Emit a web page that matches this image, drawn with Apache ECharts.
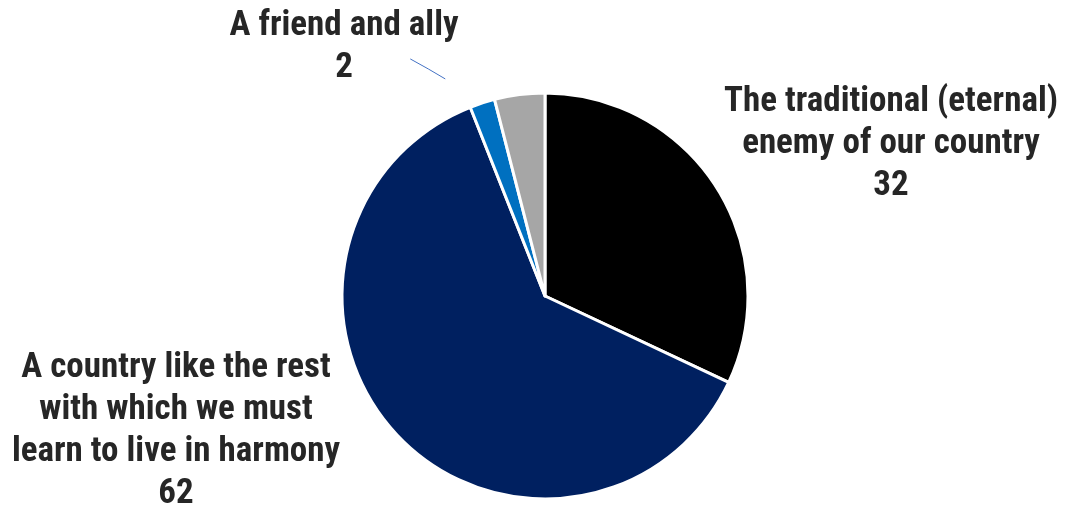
<!DOCTYPE html>
<html>
<head>
<meta charset="utf-8">
<script src="https://cdn.jsdelivr.net/npm/echarts@6/dist/echarts.min.js"></script>
<style>
html,body{margin:0;padding:0;background:#fff;}
#chart{width:1066px;height:505px;}
</style>
</head>
<body>
<div id="chart"></div>
<script>
const categories = [
  "The traditional (eternal)\nenemy of our country",
  "A country like the rest\nwith which we must\nlearn to live in harmony",
  "A friend and ally",
  "Other / no answer"
];
const values = [32, 62, 2, 4];
const colors = ["#000000", "#002060", "#0070C0", "#A6A6A6"];
const showLabel = [true, true, true, false];

// label anchor positions (layout only)
const labelPos = [
  { x: 891, y: 144 },
  { x: 176, y: 431 },
  { x: 344, y: 47 },
  null
];

const FONT = "'Roboto Condensed', 'Liberation Sans Narrow', 'DejaVu Sans Condensed', sans-serif";

const chart = echarts.init(document.getElementById('chart'), null, { renderer: 'canvas' });

const data = categories.map((c, i) => ({
  name: c,
  value: values[i],
  itemStyle: { color: colors[i] },
  label: { show: showLabel[i] },
  labelLine: { show: i === 2 }
}));

chart.setOption({
  animation: false,
  series: [{
    type: 'pie',
    center: [545, 296],
    radius: 203,
    startAngle: 90,
    clockwise: true,
    data: data,
    itemStyle: { borderColor: '#ffffff', borderWidth: 3 },
    label: {
      position: 'outside',
      formatter: '{b}\n{c}',
      fontFamily: FONT,
      fontWeight: 'bold',
      fontSize: 35,
      lineHeight: 42,
      color: '#262626',
      align: 'center',
      overflow: 'none'
    },
    labelLine: {
      length: 20,
      length2: 0,
      lineStyle: { color: '#4472C4', width: 1 }
    },
    labelLayout: function (params) {
      const p = labelPos[params.dataIndex];
      if (!p) return {};
      const out = { x: p.x, y: p.y, align: 'center', verticalAlign: 'middle' };
      if (params.dataIndex === 2 && params.labelLinePoints) {
        const a = params.labelLinePoints[0];
        out.labelLinePoints = [
          [a[0] - 37, a[1] - 24],
          [a[0] - 54, a[1] - 34],
          [a[0] - 72, a[1] - 44]
        ];
      }
      return out;
    }
  }]
});
</script>
</body>
</html>
